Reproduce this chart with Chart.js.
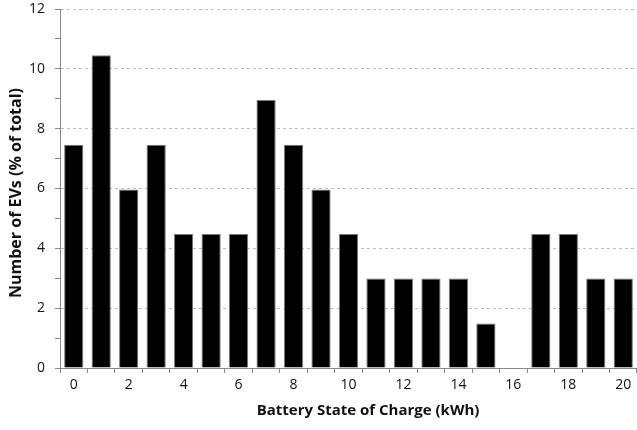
<!DOCTYPE html>
<html>
<head>
<meta charset="utf-8">
<script src="https://cdn.jsdelivr.net/npm/chart.js"></script>
<style>
  html, body { margin: 0; padding: 0; background: #fff; }
  #wrap { width: 637px; height: 430px; position: relative; }
</style>
</head>
<body>
<div id="wrap"><canvas id="chart"></canvas></div>
<script>
// battery state of charge (kWh) categories
const socLabels = ['0','1','2','3','4','5','6','7','8','9','10','11','12','13','14','15','16','17','18','19','20'];
// share of EVs in each bin (% of total)
const evShare = [7.46, 10.45, 5.97, 7.46, 4.48, 4.48, 4.48, 8.96, 7.46, 5.97, 4.48, 2.99, 2.99, 2.99, 2.99, 1.49, 0, 4.48, 4.48, 2.99, 2.99];
const yMin = 0;
const yMax = 12;
const xTitle = 'Battery State of Charge (kWh)';
const yTitle = 'Number of EVs (% of total)';

const axisColor = '#868686';
const gridColor = '#bdbdbd';
const fontFamily = "'Open Sans', 'Liberation Sans', sans-serif";

// axis titles drawn by hand: the original is not centred on the plot area
const axisTitles = {
  id: 'axisTitles',
  afterDraw(chart) {
    const c = chart.ctx;
    c.save();
    c.fillStyle = '#111';
    c.textAlign = 'center';
    c.textBaseline = 'middle';
    c.font = 'bold 15px ' + fontFamily;
    c.fillText(xTitle, 368, 411);
    c.translate(16, 193);
    c.rotate(-Math.PI / 2);
    c.font = 'bold 16px ' + fontFamily;
    c.fillText(yTitle, 0, 0);
    c.restore();
  }
};

const ctx = document.getElementById('chart').getContext('2d');
new Chart(ctx, {
  type: 'bar',
  data: {
    labels: socLabels,
    datasets: [{
      data: evShare,
      backgroundColor: '#000000',
      borderColor: '#7a7a7a',
      borderWidth: 1,
      barPercentage: 0.7,
      categoryPercentage: 1.0
    }]
  },
  plugins: [axisTitles],
  options: {
    responsive: true,
    maintainAspectRatio: false,
    animation: false,
    layout: { padding: { top: 9, right: 0, left: 0, bottom: 0 } },
    plugins: {
      legend: { display: false },
      tooltip: { enabled: false }
    },
    scales: {
      x: {
        grid: {
          offset: true,
          drawOnChartArea: false,
          drawTicks: true,
          tickLength: 5,
          tickColor: axisColor
        },
        border: { color: axisColor, width: 1 },
        ticks: {
          autoSkip: false,
          maxRotation: 0,
          color: '#111',
          font: { family: fontFamily, size: 14 },
          padding: 4,
          callback: function (val, i) {
            return i % 2 === 0 ? socLabels[i] : '';
          }
        },
        afterFit: function (scale) {
          scale.height = 62;
          scale.paddingLeft = 0;
          scale.paddingRight = 0;
        }
      },
      y: {
        min: yMin,
        max: yMax,
        grid: {
          drawTicks: true,
          tickLength: 5,
          color: function (c) {
            return c.tick && c.tick.value % 2 === 0 ? gridColor : 'rgba(0,0,0,0)';
          },
          tickColor: axisColor
        },
        border: { color: axisColor, width: 1, dash: [3, 3] },
        ticks: {
          stepSize: 1,
          color: '#111',
          font: { family: fontFamily, size: 14 },
          padding: 10,
          callback: function (val) {
            return val % 2 === 0 ? val : '';
          }
        },
        afterFit: function (scale) {
          scale.width = 60;
          scale.paddingTop = 0;
          scale.paddingBottom = 0;
        }
      }
    }
  }
});
</script>
</body>
</html>
